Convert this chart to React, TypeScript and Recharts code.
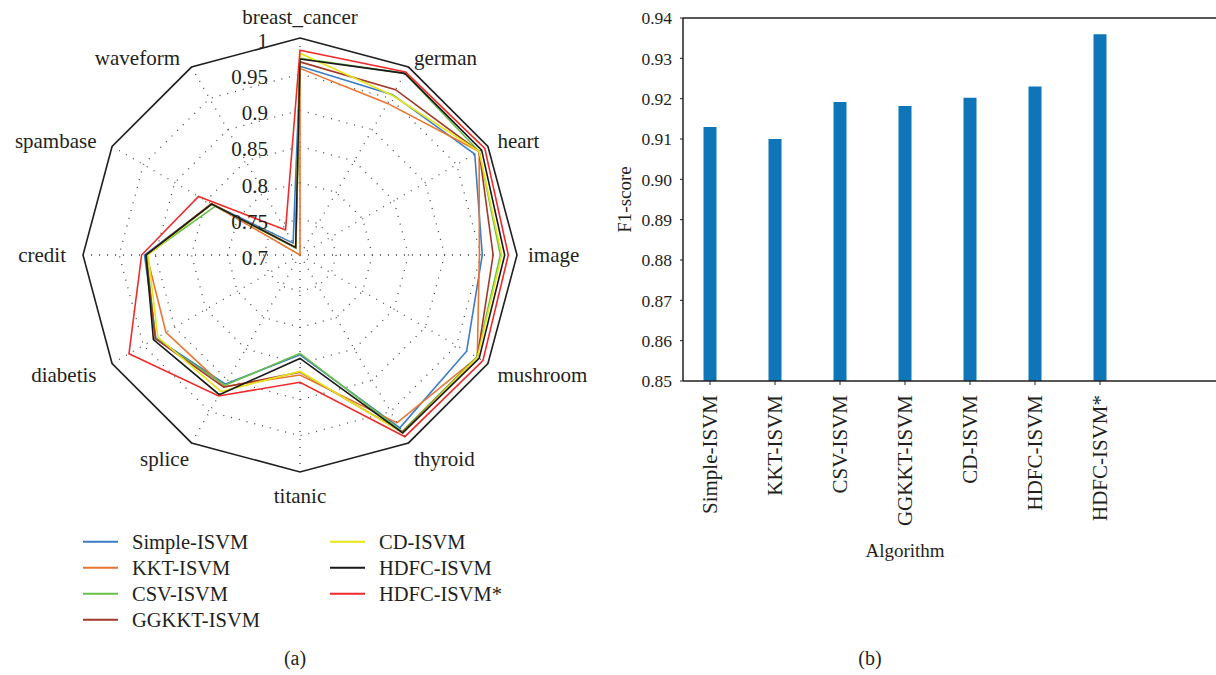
import React from 'react';
import {
  RadarChart, Radar, PolarGrid, PolarAngleAxis, PolarRadiusAxis,
  BarChart, Bar, XAxis, YAxis, ReferenceLine,
} from 'recharts';

const INK = '#231f20';
const FONT = '"Liberation Serif", "Times New Roman", serif';

// radar: datasets clockwise from the top
const datasets = [
  'breast_cancer', 'german', 'heart', 'image', 'mushroom', 'thyroid',
  'titanic', 'splice', 'diabetis', 'credit', 'spambase', 'waveform',
];

const simpleIsvm = [0.961, 0.956, 0.979, 0.952, 0.966, 0.976, 0.838, 0.906, 0.930, 0.915, 0.841, 0.719];
const kktIsvm = [0.958, 0.942, 0.986, 0.948, 0.983, 0.968, 0.866, 0.910, 0.914, 0.912, 0.842, 0.700];
const csvIsvm = [0.972, 0.990, 0.986, 0.977, 0.982, 0.982, 0.836, 0.908, 0.931, 0.912, 0.835, 0.711];
const ggkktIsvm = [0.967, 0.964, 0.986, 0.967, 0.983, 0.983, 0.862, 0.911, 0.931, 0.913, 0.841, 0.712];
const cdIsvm = [0.979, 0.955, 0.986, 0.979, 0.983, 0.984, 0.861, 0.918, 0.927, 0.910, 0.841, 0.712];
const hdfcIsvm = [0.971, 0.990, 0.990, 0.983, 0.986, 0.984, 0.843, 0.923, 0.934, 0.913, 0.841, 0.712];
const hdfcIsvmStar = [0.983, 0.992, 0.995, 0.988, 0.992, 0.990, 0.876, 0.925, 0.973, 0.919, 0.862, 0.740];

const radiusTicks = [0.7, 0.75, 0.8, 0.85, 0.9, 0.95, 1];

const series = [
  { key: 'simple', name: 'Simple-ISVM', color: '#3b7dc4', values: simpleIsvm },
  { key: 'kkt', name: 'KKT-ISVM', color: '#ea7430', values: kktIsvm },
  { key: 'csv', name: 'CSV-ISVM', color: '#66c04a', values: csvIsvm },
  { key: 'ggkkt', name: 'GGKKT-ISVM', color: '#a3392a', values: ggkktIsvm },
  { key: 'cd', name: 'CD-ISVM', color: '#e8e516', values: cdIsvm },
  { key: 'hdfc', name: 'HDFC-ISVM', color: '#1a1a1a', values: hdfcIsvm },
  { key: 'hdfcStar', name: 'HDFC-ISVM*', color: '#f02a2a', values: hdfcIsvmStar },
];

// bar chart: mean F1-score per algorithm
const algorithms = ['Simple-ISVM', 'KKT-ISVM', 'CSV-ISVM', 'GGKKT-ISVM', 'CD-ISVM', 'HDFC-ISVM', 'HDFC-ISVM*'];
const f1Scores = [0.913, 0.910, 0.9192, 0.9182, 0.9202, 0.923, 0.936];
const f1Ticks = [0.85, 0.86, 0.87, 0.88, 0.89, 0.90, 0.91, 0.92, 0.93, 0.94];

const radarData = datasets.map((name, i) => {
  const row: Record<string, number | string> = { name };
  series.forEach((s) => { row[s.key] = s.values[i]; });
  return row;
});

const barData = algorithms.map((name, i) => ({ name, f1: f1Scores[i] }));

const CX = 300;
const CY = 255;
const OUTER_R = 217;
const R_MIN = radiusTicks[0];
const R_MAX = radiusTicks[radiusTicks.length - 1];

// dotted rings at every radius tick (the outer one is redrawn solid)
const ringRadii = radiusTicks.slice(1, -1).map((v) => ((v - R_MIN) / (R_MAX - R_MIN)) * OUTER_R);

// dataset names: anchored just outside the frame, aligned away from the centre
const AngleTick = (props: any) => {
  const { x, y, payload } = props;
  const dx = x - CX;
  const dy = y - CY;
  const r = Math.hypot(dx, dy) || 1;
  const cos = dx / r;
  const sin = dy / r;
  const reach = OUTER_R + 11;
  let px = CX + cos * reach;
  let py = CY + sin * reach;
  const anchor = cos > 0.01 ? 'start' : cos < -0.01 ? 'end' : 'middle';
  if (anchor === 'end') px += sin > 0.8 ? 3 : -6;
  if (sin > 0.3 && sin < 0.99) py += 6;
  let shift = '0.35em';
  if (sin < -0.99) shift = '-0.15em';
  else if (sin > 0.99) shift = '0.95em';
  return (
    <text x={px} y={py} dy={shift} textAnchor={anchor} fontSize={21} fontFamily={FONT} fill={INK}>
      {payload.value}
    </text>
  );
};

const RadiusTick = (props: any) => {
  const { x, y, payload } = props;
  return (
    <text x={x - 32} y={y + 2.5} dy="0.35em" textAnchor="end" fontSize={21} fontFamily={FONT} fill={INK}>
      {String(Number(Number(payload.value).toFixed(2)))}
    </text>
  );
};

const AlgoTick = (props: any) => {
  const { x, y, payload } = props;
  return (
    <text
      x={x}
      y={y + 8}
      dy="0.33em"
      textAnchor="end"
      transform={`rotate(-90, ${x}, ${y + 8})`}
      fontSize={21}
      fontFamily={FONT}
      fill={INK}
    >
      {payload.value}
    </text>
  );
};

const Caption = ({ x, y, size = 20, children }: { x: number; y: number; size?: number; children: React.ReactNode }) => (
  <div
    style={{
      position: 'absolute', left: x, top: y, transform: 'translate(-50%, -50%)',
      fontSize: size, lineHeight: 1, whiteSpace: 'nowrap', color: INK,
    }}
  >
    {children}
  </div>
);

const legendCols = [series.slice(0, 4), series.slice(4)];

const App = () => {
  return (
    <div
      style={{
        position: 'absolute', left: 0, top: 0, width: 1216, height: 675,
        overflow: 'hidden', background: '#fff', fontFamily: FONT,
      }}
    >
      <div style={{ position: 'absolute', left: 0, top: 0 }}>
        <RadarChart
          width={600}
          height={520}
          data={radarData}
          cx={CX}
          cy={CY}
          outerRadius={OUTER_R}
          margin={{ top: 0, right: 0, bottom: 0, left: 0 }}
        >
          <PolarGrid gridType="polygon" polarRadius={ringRadii} stroke="#444" strokeWidth={1.3} strokeDasharray="1 7" />
          <PolarGrid gridType="polygon" radialLines={false} polarRadius={[OUTER_R]} stroke={INK} strokeWidth={1.6} />
          <PolarAngleAxis dataKey="name" tick={<AngleTick />} tickLine={false} axisLine={false} />
          <PolarRadiusAxis
            angle={90}
            type="number"
            domain={[R_MIN, R_MAX]}
            ticks={radiusTicks as any}
            tickCount={radiusTicks.length}
            axisLine={false}
            tickLine={false}
            tick={<RadiusTick />}
          />
          {series.map((s) => (
            <Radar
              key={s.key}
              name={s.name}
              dataKey={s.key}
              stroke={s.color}
              strokeWidth={1.6}
              fill="none"
              fillOpacity={0}
              dot={false}
              isAnimationActive={false}
            />
          ))}
        </RadarChart>
      </div>

      {legendCols.map((col, ci) => (
        col.map((s, ri) => (
          <div
            key={s.key}
            style={{
              position: 'absolute', left: ci === 0 ? 83 : 330, top: 542 + ri * 26,
              transform: 'translateY(-50%)', display: 'flex', alignItems: 'center',
              fontSize: 20.5, lineHeight: 1, color: INK, whiteSpace: 'nowrap',
            }}
          >
            <span style={{ display: 'inline-block', width: 35, height: 2, background: s.color, marginRight: 14 }} />
            {s.name}
          </div>
        ))
      ))}

      <Caption x={295} y={658}>(a)</Caption>

      <div style={{ position: 'absolute', left: 600, top: 0 }}>
        <BarChart width={700} height={600} data={barData} margin={{ top: 18, right: 0, bottom: 0, left: 0 }}>
          <XAxis
            dataKey="name"
            scale="point"
            padding={{ left: 27, right: 200 }}
            height={219}
            interval={0}
            tickSize={4}
            tickMargin={2}
            axisLine={{ stroke: INK, strokeWidth: 1.5 }}
            tickLine={{ stroke: INK }}
            tick={<AlgoTick />}
          />
          <YAxis
            width={83}
            type="number"
            domain={[0.85, 0.94]}
            ticks={f1Ticks}
            interval={0}
            allowDataOverflow
            tickFormatter={(v: number) => v.toFixed(2)}
            tickSize={3}
            tickMargin={8}
            axisLine={{ stroke: INK, strokeWidth: 1.5 }}
            tickLine={{ stroke: INK }}
            tick={{ fontSize: 17.5, fill: INK, fontFamily: FONT }}
            label={{
              value: 'F1-score', angle: -90, position: 'insideLeft', offset: 24,
              style: { textAnchor: 'middle', fontSize: 19, fill: INK, fontFamily: FONT },
            }}
          />
          <ReferenceLine y={0.94} stroke={INK} strokeWidth={1.5} />
          <Bar dataKey="f1" fill="#0f75b9" barSize={13} isAnimationActive={false} />
        </BarChart>
      </div>

      <Caption x={905} y={550} size={19}>Algorithm</Caption>
      <Caption x={870} y={658}>(b)</Caption>
    </div>
  );
};

export default App;
